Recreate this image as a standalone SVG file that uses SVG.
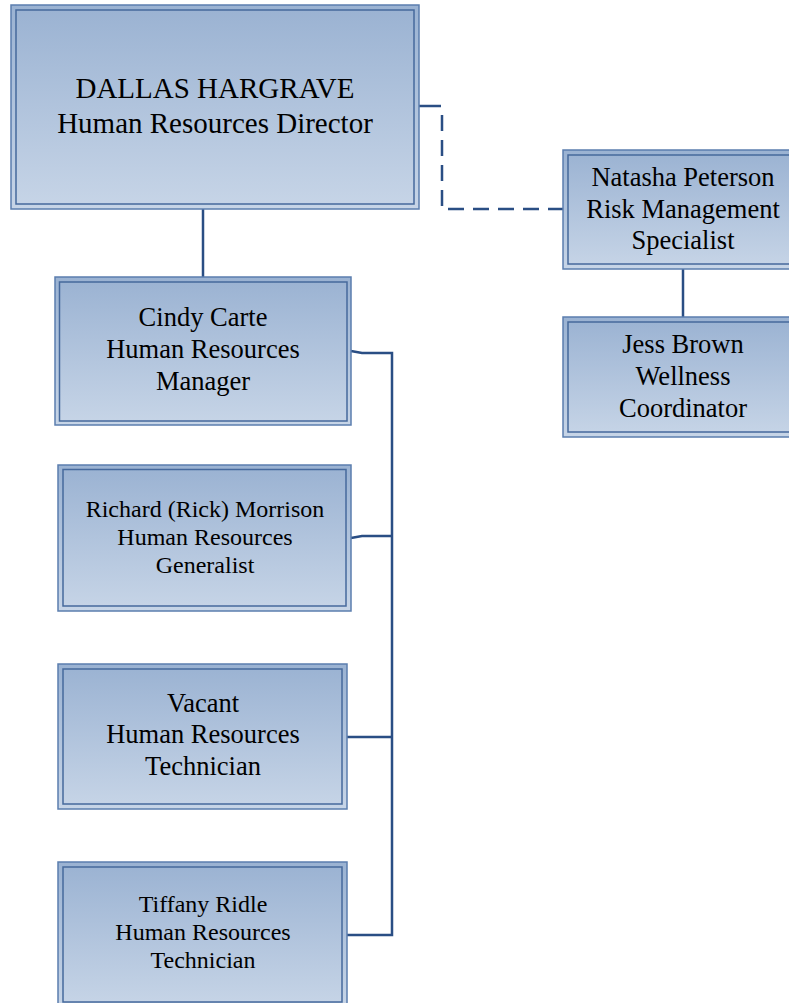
<svg xmlns="http://www.w3.org/2000/svg" width="789" height="1003" viewBox="0 0 789 1003">
<defs>
<linearGradient id="g" x1="0" y1="0" x2="0" y2="1">
<stop offset="0" stop-color="#9AB2D2"/>
<stop offset="1" stop-color="#C7D5E7"/>
</linearGradient>
</defs>
<style>
.o{fill:url(#g);stroke:#5B7EAE;stroke-width:1.5}
.i{fill:none;stroke:#46699C;stroke-width:1.5}
text{font-family:"Liberation Serif","Times New Roman",serif;fill:#000;text-anchor:middle}
.big{font-size:29px}
.m{font-size:26.5px}
.s{font-size:24px}
.c{fill:none;stroke:#2A4E84;stroke-width:2.5}
.d{fill:none;stroke:#2A4E84;stroke-width:2.5;stroke-dasharray:16,9}
</style>
<rect width="789" height="1003" fill="#fff"/>
<g id="connectors">
<line class="c" x1="203" y1="209" x2="203" y2="277"/>
<path class="c" d="M419,106 H441"/>
<path class="d" d="M442,115 V209 H563"/>
<line class="c" x1="683" y1="269" x2="683" y2="317"/>
<path class="c" d="M351,351 L362,353 H392 V935 H347"/>
<path class="c" d="M351,538 L362,536 H392"/>
<path class="c" d="M347,737 H392"/>
</g>
<g id="dallas">
<rect class="o" x="11" y="5" width="408" height="204"/>
<rect class="i" x="16" y="10" width="398" height="194"/>
<text class="big" x="215" y="98">DALLAS HARGRAVE</text>
<text class="big" x="215" y="133">Human Resources Director</text>
</g>
<g id="natasha">
<rect class="o" x="563" y="150" width="240" height="119"/>
<rect class="i" x="568" y="155" width="230" height="109"/>
<text class="m" x="683" y="186">Natasha Peterson</text>
<text class="m" x="683" y="218">Risk Management</text>
<text class="m" x="683" y="249">Specialist</text>
</g>
<g id="jess">
<rect class="o" x="563" y="317" width="240" height="120"/>
<rect class="i" x="568" y="322" width="230" height="110"/>
<text class="m" x="683" y="353">Jess Brown</text>
<text class="m" x="683" y="385">Wellness</text>
<text class="m" x="683" y="417">Coordinator</text>
</g>
<g id="cindy">
<rect class="o" x="55" y="277" width="296" height="148"/>
<rect class="i" x="59.5" y="282" width="287.5" height="139"/>
<text class="m" x="203" y="326">Cindy Carte</text>
<text class="m" x="203" y="358">Human Resources</text>
<text class="m" x="203" y="390">Manager</text>
</g>
<g id="richard">
<rect class="o" x="58" y="465" width="293" height="146"/>
<rect class="i" x="63" y="469.5" width="283" height="136.5"/>
<text class="s" x="205" y="517">Richard (Rick) Morrison</text>
<text class="s" x="205" y="545">Human Resources</text>
<text class="s" x="205" y="573">Generalist</text>
</g>
<g id="vacant">
<rect class="o" x="58" y="664" width="289" height="145"/>
<rect class="i" x="63" y="669" width="279" height="135"/>
<text class="m" x="203" y="712">Vacant</text>
<text class="m" x="203" y="743">Human Resources</text>
<text class="m" x="203" y="775">Technician</text>
</g>
<g id="tiffany">
<rect class="o" x="58" y="862" width="289" height="146"/>
<rect class="i" x="63" y="867" width="279" height="135"/>
<text class="s" x="203" y="912">Tiffany Ridle</text>
<text class="s" x="203" y="940">Human Resources</text>
<text class="s" x="203" y="968">Technician</text>
</g>
</svg>
